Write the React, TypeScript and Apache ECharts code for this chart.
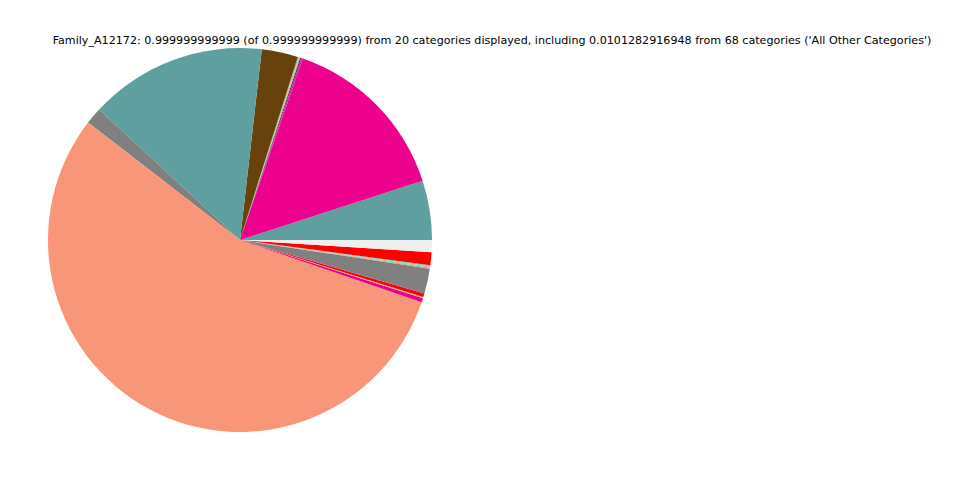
import React, { useEffect, useRef } from "react";
import * as echarts from "echarts";

const titleText =
  "Family_A12172: 0.999999999999 (of 0.999999999999) from 20 categories displayed, including 0.0101282916948 from 68 categories ('All Other Categories')";

const categories = [
  "Cat 1", "Cat 2", "Cat 3", "Cat 4", "Cat 5", "Cat 6", "Cat 7", "Cat 8", "Cat 9", "Cat 10",
  "Cat 11", "Cat 12", "Cat 13", "Cat 14", "Cat 15", "Cat 16", "Cat 17", "Cat 18", "Cat 19",
  "All Other Categories",
];

const values = [
  0.05, 0.147, 0.0012, 0.0012, 0.0008, 0.0008, 0.0005, 0.0305, 0.1493, 0.0142, 0.5525,
  0.0035, 0.001, 0.003, 0.021, 0.001, 0.001, 0.001, 0.0109, 0.0101,
];

const colors = [
  "#5F9F9F", "#EC008C", "#9932CC", "#C01010", "#6AD5E0", "#E0B080", "#5F9F9F", "#68420C",
  "#5F9F9F", "#808080", "#F8967A", "#EC008C", "#E0B080", "#FF0000", "#808080", "#8FBC8F",
  "#E0B080", "#6AD5E0", "#FF0000", "#EEEEEE",
];

export default function App() {
  const ref = useRef<HTMLDivElement>(null);
  useEffect(() => {
    const chart = echarts.init(ref.current!, undefined, { renderer: "svg" });
    chart.setOption({
      animation: false,
      backgroundColor: "#ffffff",
      title: {
        text: titleText,
        left: 487,
        top: 30,
        textAlign: "center",
        textStyle: {
          fontFamily: "DejaVu Sans",
          fontSize: 11.13,
          fontWeight: "normal",
          color: "#000",
        },
      },
      series: [
        {
          type: "pie",
          center: [240, 240],
          radius: 192,
          startAngle: 0,
          clockwise: false,
          silent: true,
          label: { show: false },
          labelLine: { show: false },
          itemStyle: { borderWidth: 0 },
          minAngle: 0,
          avoidLabelOverlap: false,
          data: categories.map((name, i) => ({
            name,
            value: values[i],
            itemStyle: { color: colors[i] },
          })),
        },
      ],
    });
    return () => chart.dispose();
  }, []);
  return (
    <div
      ref={ref}
      style={{ position: "fixed", left: 0, top: 0, width: 960, height: 480 }}
    />
  );
}
